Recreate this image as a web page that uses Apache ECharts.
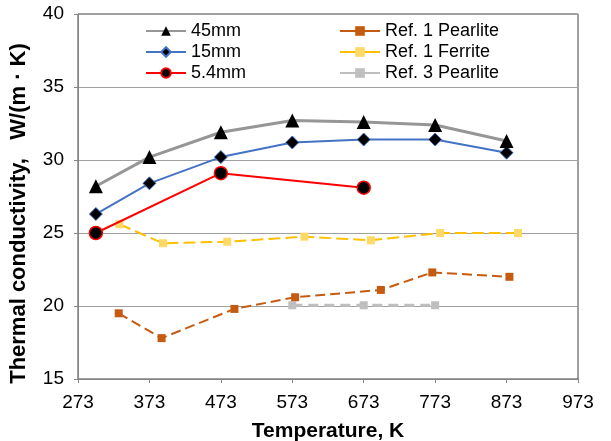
<!DOCTYPE html>
<html><head><meta charset="utf-8">
<script src="https://cdn.jsdelivr.net/npm/echarts@6/dist/echarts.min.js"></script>
<style>html,body{margin:0;padding:0;background:#fff}#c{width:611px;height:441px}</style>
</head><body><div id="c"></div>
<script>
const xTicks = [273, 373, 473, 573, 673, 773, 873, 973];
const yTicks = [15, 20, 25, 30, 35, 40];
const t45 = [298, 373, 473, 573, 673, 773, 873];
const v45 = [28.2, 30.2, 31.9, 32.7, 32.6, 32.4, 31.3];
const t15 = [298, 373, 473, 573, 673, 773, 873];
const v15 = [26.3, 28.4, 30.2, 31.2, 31.4, 31.4, 30.5];
const t54 = [298, 473, 673];
const v54 = [25.0, 29.1, 28.1];
const tR1P = [330, 390, 492, 577, 697, 769, 877];
const vR1P = [19.5, 17.8, 19.8, 20.6, 21.1, 22.3, 22.0];
const tR1F = [331, 392, 482, 590, 683, 780, 889];
const vR1F = [25.6, 24.3, 24.4, 24.75, 24.5, 25.0, 25.0];
const tR3P = [573, 673, 773];
const vR3P = [20.05, 20.05, 20.05];

const pair = (xs, ys) => xs.map((x, i) => [x, ys[i]]);
const FONT = 'Liberation Sans';
const legText = { fontFamily: FONT, fontSize: 18, color: '#000' };
const solid = n => ({ name: n, lineStyle: { type: 'solid' } });
const chart = echarts.init(document.getElementById('c'));
chart.setOption({
  animation: false,
  textStyle: { fontFamily: FONT },
  grid: { left: 78, right: 33, top: 14, bottom: 62, show: true, borderColor: '#404040', borderWidth: 1,
          containLabel: false, outerBoundsMode: 'none' },
  xAxis: {
    type: 'value', min: xTicks[0], max: xTicks[xTicks.length - 1], interval: 100,
    name: 'Temperature, K', nameLocation: 'middle', nameGap: 42,
    nameTextStyle: { fontFamily: FONT, fontWeight: 'bold', fontSize: 21, color: '#000' },
    axisLine: { show: true, onZero: false, lineStyle: { color: '#868686', width: 1 } },
    axisTick: { show: true, inside: false, length: 4, lineStyle: { color: '#868686' } },
    axisLabel: { fontFamily: FONT, fontSize: 19, color: '#000', margin: 14 },
    splitLine: { show: false }
  },
  yAxis: {
    type: 'value', min: yTicks[0], max: yTicks[yTicks.length - 1], interval: 5,
    name: 'Thermal conductivity,   W/(m · K)', nameLocation: 'middle', nameGap: 48,
    nameTextStyle: { fontFamily: FONT, fontWeight: 'bold', fontSize: 22, color: '#000', padding: [0, 34, 0, 0] },
    axisLine: { show: true, lineStyle: { color: '#868686', width: 1 } },
    axisTick: { show: true, inside: false, length: 4, lineStyle: { color: '#868686' } },
    axisLabel: { fontFamily: FONT, fontSize: 19, color: '#000', margin: 14 },
    splitLine: { show: true, lineStyle: { color: '#a0a0a0', width: 1 } }
  },
  legend: [
    {
      data: ['45mm', '15mm', '5.4mm'].map(solid), orient: 'vertical', left: 140, top: 17,
      itemWidth: 40, itemHeight: 12, itemGap: 3, textStyle: legText
    },
    {
      data: ['Ref. 1 Pearlite', 'Ref. 1 Ferrite', 'Ref. 3 Pearlite'].map(solid), orient: 'vertical', left: 334, top: 17,
      itemWidth: 40, itemHeight: 12, itemGap: 3, textStyle: legText
    }
  ],
  series: [
    { name: 'Ref. 3 Pearlite', type: 'line', data: pair(tR3P, vR3P), symbol: 'rect', symbolSize: 8,
      lineStyle: { color: '#bfbfbf', width: 3, type: [10, 6] }, itemStyle: { color: '#bfbfbf' }, z: 2 },
    { name: 'Ref. 1 Pearlite', type: 'line', data: pair(tR1P, vR1P), symbol: 'rect', symbolSize: 8,
      lineStyle: { color: '#c55a11', width: 2, type: [10, 5] }, itemStyle: { color: '#c55a11' }, z: 3 },
    { name: 'Ref. 1 Ferrite', type: 'line', data: pair(tR1F, vR1F), symbol: 'rect', symbolSize: 8,
      lineStyle: { color: '#ffc000', width: 2, type: [12, 5] }, itemStyle: { color: '#ffd966' }, z: 3 },
    { name: '5.4mm', type: 'line', data: pair(t54, v54), symbol: 'circle', symbolSize: 13,
      lineStyle: { color: '#ff0000', width: 2 }, itemStyle: { color: '#000', borderColor: '#ff0000', borderWidth: 1.5 }, z: 4 },
    { name: '15mm', type: 'line', data: pair(t15, v15), symbol: 'diamond', symbolSize: 13,
      lineStyle: { color: '#4472c4', width: 2 }, itemStyle: { color: '#000', borderColor: '#4472c4', borderWidth: 1 }, z: 5 },
    { name: '45mm', type: 'line', data: pair(t45, v45), symbol: 'triangle', symbolSize: 14,
      lineStyle: { color: '#969696', width: 3 }, itemStyle: { color: '#000' }, z: 6 }
  ]
});
</script></body></html>
